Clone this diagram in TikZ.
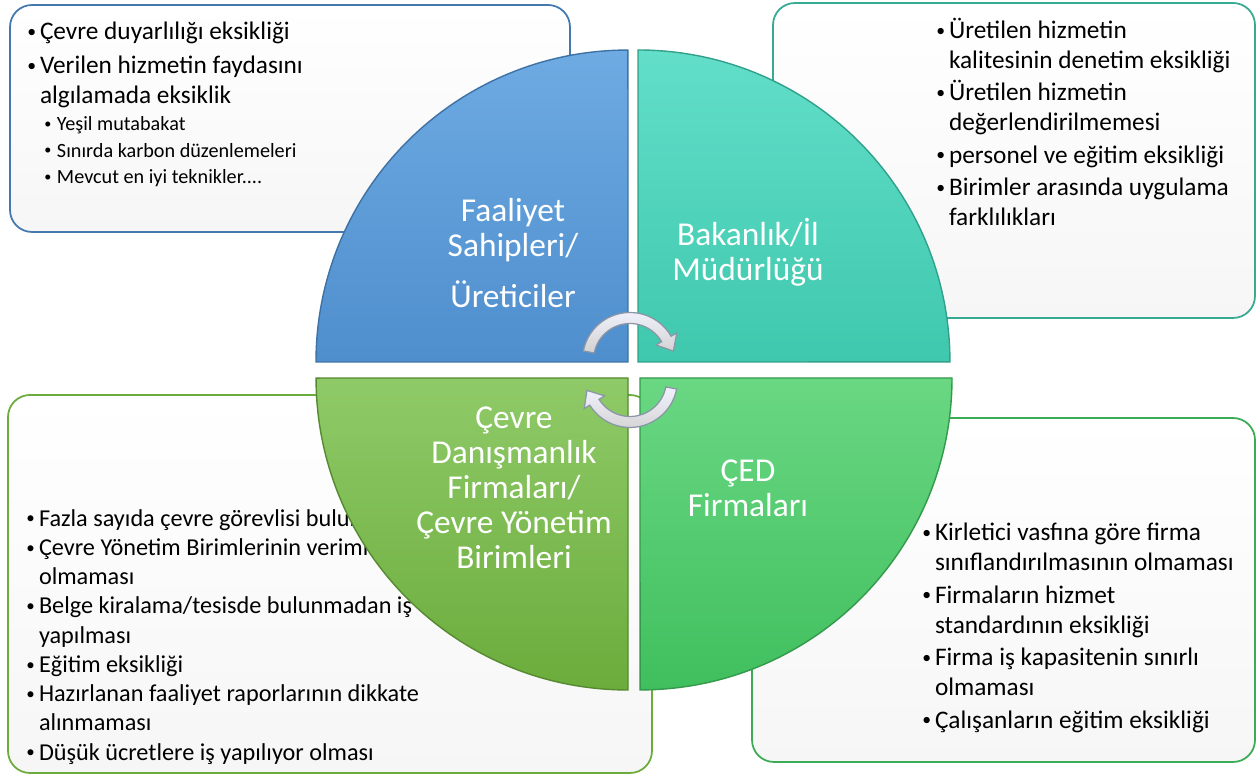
\documentclass[tikz,border=0pt]{standalone}
\usepackage{fontspec}
\setmainfont{Carlito}
\usetikzlibrary{positioning,calc}

\definecolor{blueTop}{HTML}{6EABE3}
\definecolor{blueBot}{HTML}{4F8ECD}
\definecolor{tealTop}{HTML}{62DEC9}
\definecolor{tealBot}{HTML}{3FC8AD}
\definecolor{oliveTop}{HTML}{8FCA68}
\definecolor{oliveBot}{HTML}{6BAC3C}
\definecolor{greenTop}{HTML}{6AD783}
\definecolor{greenBot}{HTML}{40BF5E}
\definecolor{arrowLine}{HTML}{8A95A6}

\tikzset{
	notebox/.style={rounded corners=0.44cm, line width=1pt, top color=white, bottom color=gray!7},
	quadrant/.style={line width=0.8pt},
	quadtext/.style={text=white, align=center, inner sep=0pt, font=\fontsize{19}{20}\selectfont},
	listtext/.style={align=left, anchor=north west, inner sep=0pt, font=\fontsize{14.4}{17}\selectfont},
	cyclearrow/.style={draw=arrowLine, line width=0.7pt, top color=white!95!blue, bottom color=gray!35},
}
\newcommand\bl{\makebox[7.2pt][l]{\raisebox{0.1em}{\scalebox{0.7}{\textbullet}}}}
\newcommand\ind{\makebox[7.2pt]{}}

\begin{document}
\begin{tikzpicture}[x=0.02cm, y=0.02cm]
	\useasboundingbox (0,0) rectangle (1258,776);

	% note boxes
	\draw[notebox, draw=blueBot!85!black] (10,771) rectangle (570,544);
	\draw[notebox, draw=tealBot!85!black] (773,773) rectangle (1255,458);
	\draw[notebox, draw=oliveBot] (8,381) rectangle (652,3);
	\draw[notebox, draw=greenBot!90!black] (752,358) rectangle (1255,14);

	\node[listtext] (tlList) at (27,754) {\bl Çevre duyarlılığı eksikliği\\[2.3pt]
		\bl Verilen hizmetin faydasını\\
		\ind algılamada eksiklik};
	\node[listtext, font=\fontsize{11.5}{15}\selectfont, below right=4.5pt and 0.34cm of tlList.south west] (tlSub) {\bl Yeşil mutabakat\\
		\bl Sınırda karbon düzenlemeleri\\
		\bl Mevcut en iyi teknikler....};

	\node[listtext] (trList) at (936,758) {\bl Üretilen hizmetin\\
		\ind kalitesinin denetim eksikliği\\[1.5pt]
		\bl Üretilen hizmetin\\
		\ind değerlendirilmemesi\\[1.5pt]
		\bl personel ve eğitim eksikliği\\[1.5pt]
		\bl Birimler arasında uygulama\\
		\ind farklılıkları};

	\node[listtext, font=\fontsize{13.8}{16.65}\selectfont] (blList) at (26,267) {\bl Fazla sayıda çevre görevlisi bulunmaması\\
		\bl Çevre Yönetim Birimlerinin verimli\\
		\ind olmaması\\
		\bl Belge kiralama/tesisde bulunmadan iş\\
		\ind yapılması\\
		\bl Eğitim eksikliği\\
		\bl Hazırlanan faaliyet raporlarının dikkate\\
		\ind alınmaması\\
		\bl Düşük ücretlere iş yapılıyor olması};

	\node[listtext] (brList) at (922,253) {\bl Kirletici vasfına göre firma\\
		\ind sınıflandırılmasının olmaması\\[1.5pt]
		\bl Firmaların hizmet\\
		\ind standardının eksikliği\\[1.5pt]
		\bl Firma iş kapasitenin sınırlı\\
		\ind olmaması\\[1.5pt]
		\bl Çalışanların eğitim eksikliği};

	% quarter circles
	\path[quadrant, top color=blueTop, bottom color=blueBot, draw=blueBot!80!black] (628,414) -- (316,414) arc[start angle=180, end angle=90, radius=6.24cm] -- cycle;
	\path[quadrant, top color=tealTop, bottom color=tealBot, draw=tealBot!80!black] (638,414) -- (638,726) arc[start angle=90, end angle=0, radius=6.24cm] -- cycle;
	\path[quadrant, top color=oliveTop, bottom color=oliveBot, draw=oliveBot!80!black] (628,398) -- (628,86) arc[start angle=270, end angle=180, radius=6.24cm] -- cycle;
	\path[quadrant, top color=greenTop, bottom color=greenBot, draw=greenBot!80!black] (640,398) -- (952,398) arc[start angle=0, end angle=-90, radius=6.24cm] -- cycle;

	\node[quadtext] (ureticiler) at (513,523) {Faaliyet\\Sahipleri/\\[9pt]Üreticiler};
	\node[quadtext] (bakanlik) at (748,524) {Bakanlık/İl\\Müdürlüğü};
	\node[quadtext] (danismanlik) at (514,288) {Çevre\\Danışmanlık\\Firmaları/\\Çevre Yönetim\\Birimleri};
	\node[quadtext] (ced) at (748,288) {ÇED\\Firmaları};

	% cycle arrows
	\coordinate (c1) at (630,416);
	\coordinate (c2) at (630,396);
	\foreach \c/\s/\e/\t in {c1/169/30/11.6, c2/-11/-148/-166.4}
		\path[cyclearrow] ($(\c)+(\s:47.5)$) arc[start angle=\s, end angle=\e, radius=0.95cm]
			-- ($(\c)+(\e:54)$) -- ($(\c)+(\t:44.3)$) -- ($(\c)+(\e:30)$)
			-- ($(\c)+(\e:36.5)$) arc[start angle=\e, end angle=\s, radius=0.73cm] -- cycle;
\end{tikzpicture}
\end{document}
